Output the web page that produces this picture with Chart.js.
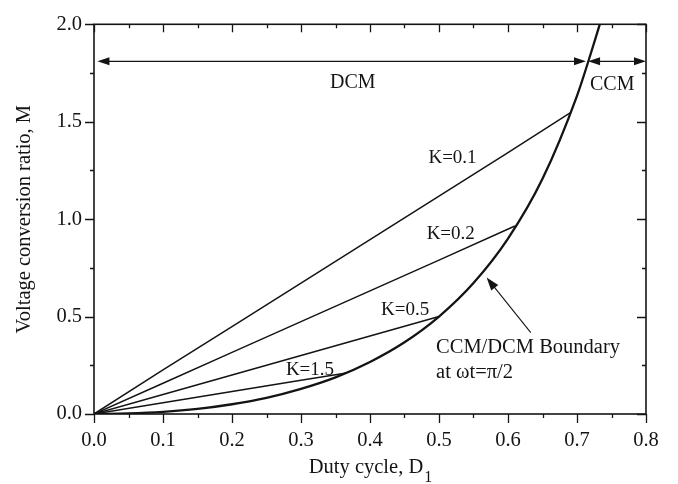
<!DOCTYPE html>
<html><head><meta charset="utf-8">
<script src="https://cdn.jsdelivr.net/npm/chart.js@4/dist/chart.umd.min.js"></script>
<style>html,body{margin:0;padding:0;background:#fff}</style>
</head><body>
<canvas id="c" width="678" height="484"></canvas>
<script>
// ---- data ----
const boundaryD = [0, 0.05, 0.10, 0.15, 0.20, 0.25, 0.30, 0.35, 0.40, 0.45, 0.50, 0.55, 0.60, 0.65, 0.70, 0.72, 0.733];
const boundaryM = [0, 0.003, 0.011, 0.026, 0.050, 0.083, 0.129, 0.188, 0.267, 0.368, 0.500, 0.672, 0.900, 1.207, 1.633, 1.850, 2.000];

const k01D = [0, 0.1, 0.2, 0.3, 0.4, 0.5, 0.6, 0.69];
const k01M = [0, 0.226, 0.448, 0.672, 0.895, 1.118, 1.342, 1.545];
const k02D = [0, 0.1, 0.2, 0.3, 0.4, 0.5, 0.61];
const k02M = [0, 0.158, 0.316, 0.474, 0.632, 0.790, 0.965];
const k05D = [0, 0.1, 0.2, 0.3, 0.4, 0.5];
const k05M = [0, 0.100, 0.200, 0.300, 0.400, 0.500];
const k15D = [0, 0.1, 0.2, 0.3, 0.366];
const k15M = [0, 0.058, 0.115, 0.173, 0.211];

const xTicks = [0, 0.1, 0.2, 0.3, 0.4, 0.5, 0.6, 0.7, 0.8];
const yTicks = [0, 0.5, 1.0, 1.5, 2.0];

const regionArrowM = 1.81;
const dcmSpan = [0.005, 0.713];
const ccmSpan = [0.716, 0.8];

// ---- helpers ----
const pts = (xs, ys) => xs.map((x, i) => ({x, y: ys[i]}));
const INK = '#141414';
const SERIF = '"Liberation Serif", "Times New Roman", serif';

function line(xs, ys, w, smooth) {
  return {
    data: pts(xs, ys), showLine: true, pointRadius: 0, borderColor: INK,
    borderWidth: w, fill: false, cubicInterpolationMode: smooth ? 'monotone' : 'default', tension: 0
  };
}

const notes = [
  {t: 'DCM', x: 0.375, y: 1.70, size: 20, align: 'center'},
  {t: 'CCM', x: 0.751, y: 1.69, size: 20, align: 'center'},
  {t: 'K=0.1', x: 0.5196, y: 1.316, size: 19, align: 'center'},
  {t: 'K=0.2', x: 0.517, y: 0.925, size: 19, align: 'center'},
  {t: 'K=0.5', x: 0.451, y: 0.534, size: 19, align: 'center'},
  {t: 'K=1.5', x: 0.313, y: 0.224, size: 19, align: 'center'},
  {t: 'CCM/DCM Boundary', x: 0.4957, y: 0.343, size: 20.5, align: 'left'},
  {t: 'at \u03c9t=\u03c0/2', x: 0.4957, y: 0.210, size: 20.5, align: 'left'}
];

function head(ctx, x1, y1, x2, y2, len, half) {
  const a = Math.atan2(y2 - y1, x2 - x1);
  ctx.beginPath();
  ctx.moveTo(x2, y2);
  ctx.lineTo(x2 - len * Math.cos(a) + half * Math.sin(a), y2 - len * Math.sin(a) - half * Math.cos(a));
  ctx.lineTo(x2 - len * Math.cos(a) - half * Math.sin(a), y2 - len * Math.sin(a) + half * Math.cos(a));
  ctx.closePath();
  ctx.fill();
}

const decor = {
  id: 'decor',
  afterDraw(chart) {
    const ctx = chart.ctx, xs = chart.scales.x, ys = chart.scales.y, a = chart.chartArea;
    ctx.save();
    ctx.strokeStyle = INK; ctx.fillStyle = INK;
    // frame
    ctx.lineWidth = 1.6;
    ctx.strokeRect(a.left, a.top, a.right - a.left, a.bottom - a.top);
    // ticks
    ctx.lineWidth = 1.3;
    ctx.beginPath();
    for (let v = 0; v <= 0.8001; v += 0.05) {
      const major = Math.abs(v * 10 - Math.round(v * 10)) < 1e-6;
      const px = Math.round(xs.getPixelForValue(v)) + 0.5;
      const L = major ? 9 : 4;
      ctx.moveTo(px, a.bottom); ctx.lineTo(px, a.bottom + L);
      ctx.moveTo(px, a.top); ctx.lineTo(px, a.top + (major ? 8 : 4));
    }
    for (let v = 0; v <= 2.0001; v += 0.25) {
      const major = Math.abs(v * 2 - Math.round(v * 2)) < 1e-6;
      const py = Math.round(ys.getPixelForValue(v)) + 0.5;
      const L = major ? 9 : 4;
      ctx.moveTo(a.left, py); ctx.lineTo(a.left - L, py);
      ctx.moveTo(a.right, py); ctx.lineTo(a.right - L, py);
    }
    ctx.stroke();
    // region arrows
    const ay = ys.getPixelForValue(regionArrowM);
    const d0 = xs.getPixelForValue(dcmSpan[0]), d1 = xs.getPixelForValue(dcmSpan[1]);
    const c0 = xs.getPixelForValue(ccmSpan[0]), c1 = xs.getPixelForValue(ccmSpan[1]);
    ctx.lineWidth = 1.3;
    ctx.beginPath();
    ctx.moveTo(d0 + 6, ay); ctx.lineTo(d1 - 6, ay);
    ctx.moveTo(c0 + 6, ay); ctx.lineTo(c1 - 6, ay);
    ctx.stroke();
    head(ctx, d1, ay, d0, ay, 12, 4);
    head(ctx, d0, ay, d1, ay, 12, 4);
    head(ctx, c1, ay, c0, ay, 12, 4);
    head(ctx, c0, ay, c1, ay, 12, 4);
    // boundary pointer
    const tx = xs.getPixelForValue(0.633), ty = ys.getPixelForValue(0.418);
    const hx = xs.getPixelForValue(0.569), hy = ys.getPixelForValue(0.700);
    ctx.lineWidth = 1.1;
    ctx.beginPath(); ctx.moveTo(tx, ty); ctx.lineTo(hx + (tx - hx) * 0.12, hy + (ty - hy) * 0.12); ctx.stroke();
    head(ctx, tx, ty, hx, hy, 13, 4.5);
    // notes
    ctx.textBaseline = 'middle';
    for (const n of notes) {
      ctx.font = n.size + 'px ' + SERIF;
      ctx.textAlign = n.align;
      ctx.fillText(n.t, xs.getPixelForValue(n.x), ys.getPixelForValue(n.y));
    }
    // axis titles
    ctx.textAlign = 'left'; ctx.textBaseline = 'alphabetic';
    const main = 'Duty cycle, D';
    ctx.font = '20.5px ' + SERIF;
    const w = ctx.measureText(main).width;
    ctx.font = '16px ' + SERIF;
    const ws = ctx.measureText('1').width;
    const sx = (a.left + a.right) / 2 - (w + ws) / 2;
    ctx.font = '20.5px ' + SERIF;
    ctx.fillText(main, sx, 473);
    ctx.font = '16px ' + SERIF;
    ctx.fillText('1', sx + w + 1, 482);
    ctx.save();
    ctx.translate(25, (a.top + a.bottom) / 2);
    ctx.rotate(-Math.PI / 2);
    ctx.font = '20.5px ' + SERIF;
    ctx.textAlign = 'center'; ctx.textBaseline = 'middle';
    ctx.fillText('Voltage conversion ratio, M', 0, 0);
    ctx.restore();
    ctx.restore();
  }
};

new Chart(document.getElementById('c'), {
  type: 'scatter',
  data: {
    datasets: [
      line(boundaryD, boundaryM, 2.3, true),
      line(k01D, k01M, 1.5, false),
      line(k02D, k02M, 1.5, false),
      line(k05D, k05M, 1.5, false),
      line(k15D, k15M, 1.5, false)
    ]
  },
  options: {
    responsive: false, animation: false, devicePixelRatio: 1,
    layout: {padding: {left: 0, top: 12, right: 32, bottom: 0}},
    plugins: {legend: {display: false}, tooltip: {enabled: false}},
    scales: {
      x: {
        type: 'linear', min: 0, max: 0.8,
        grid: {display: false, drawTicks: false}, border: {display: false},
        afterBuildTicks: s => { s.ticks = xTicks.map(v => ({value: v})); },
        afterFit: s => { s.height = 70; },
        ticks: {color: INK, padding: 14, maxRotation: 0, font: {family: SERIF, size: 20.5},
          callback: v => Number(v).toFixed(1)}
      },
      y: {
        type: 'linear', min: 0, max: 2,
        grid: {display: false, drawTicks: false}, border: {display: false},
        afterBuildTicks: s => { s.ticks = yTicks.map(v => ({value: v})); },
        afterFit: s => { s.width = 94; },
        ticks: {color: INK, padding: 12, font: {family: SERIF, size: 20.5},
          callback: v => Number(v).toFixed(1)}
      }
    }
  },
  plugins: [decor]
});
</script>
</body></html>
